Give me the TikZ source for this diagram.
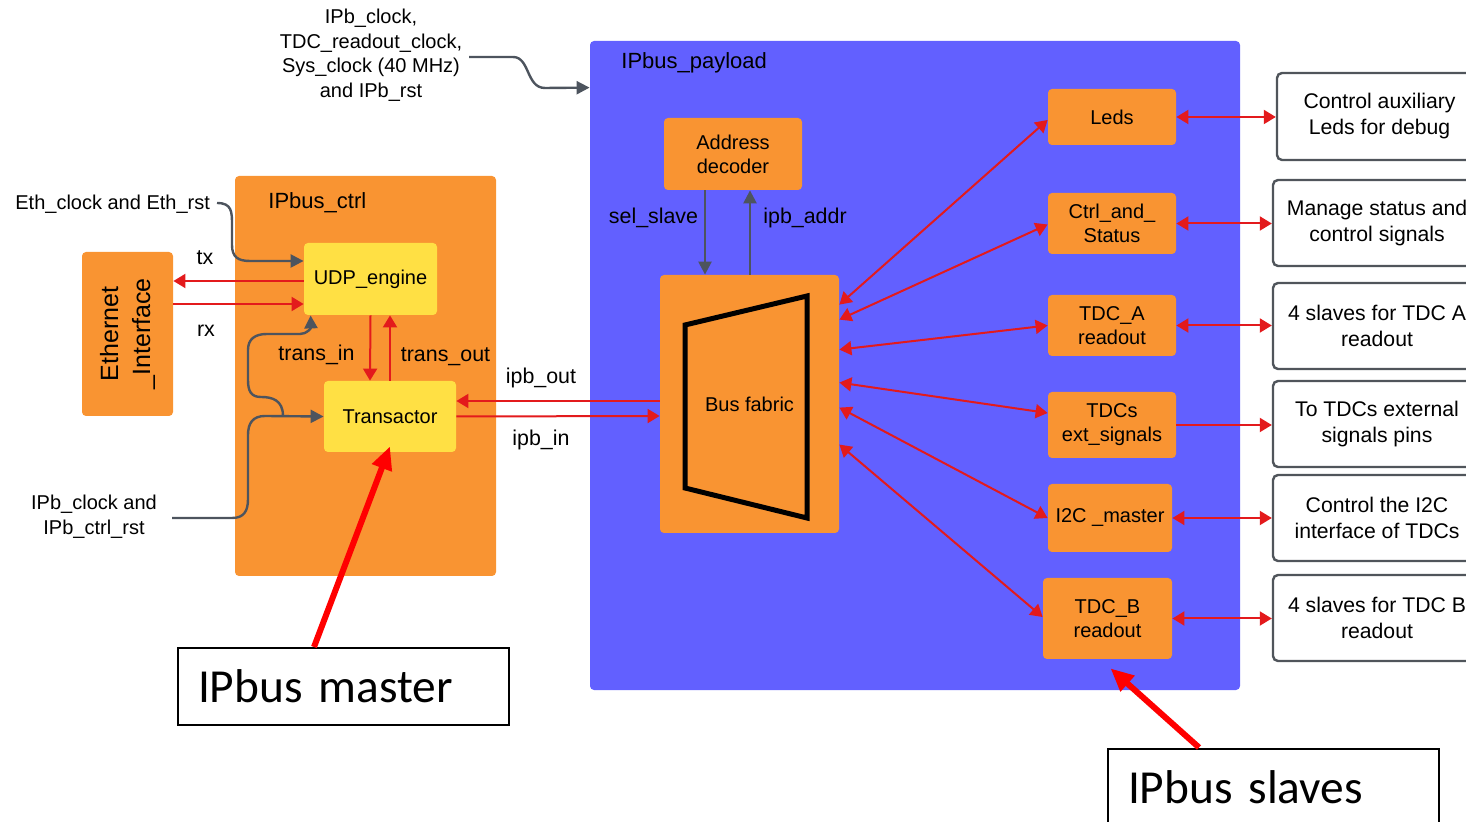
\documentclass[tikz,border=0pt]{standalone}
\usepackage{fontspec}
\setmainfont{Liberation Sans}
\newfontfamily\calibri{Carlito}
\usetikzlibrary{arrows.meta,calc}
\definecolor{pblue}{HTML}{6260FF}
\definecolor{orfill}{HTML}{F99432}
\definecolor{yfill}{HTML}{FFE044}
\definecolor{lred}{HTML}{E31A1C}
\definecolor{lgray}{HTML}{4D545E}
\definecolor{dgray}{HTML}{50555B}
\tikzset{
 obox/.style={fill=orfill, rounded corners=2pt, inner sep=0pt, align=center, font=\fontsize{10}{12}\selectfont},
 ybox/.style={obox, fill=yfill},
 dbox/.style={draw=dgray, line width=1.2pt, fill=white, rounded corners=2.5pt, inner sep=0pt, align=center, font=\fontsize{10.6}{13}\selectfont},
 lbl/.style={font=\fontsize{10.7}{12.8}\selectfont, inner sep=0pt, text height=0.75em, text depth=0.25em},
 title/.style={font=\fontsize{11}{13}\selectfont, inner sep=0pt, anchor=west},
 rl/.style={draw=lred, line width=1pt, -{Triangle[length=6pt,width=7pt]}},
 rlb/.style={draw=lred, line width=1pt, {Triangle[length=6pt,width=7pt]}-{Triangle[length=6pt,width=7pt]}},
 gl/.style={draw=lgray, line width=1.2pt, -{Triangle[length=6.5pt,width=6.5pt]}},
 big/.style={draw=red, line width=3pt, -{Triangle[length=11.5pt,width=10pt]}},
 callout/.style={draw=black, line width=1pt, fill=white, minimum width=165.5pt, minimum height=38.5pt, text width=145.5pt, inner xsep=10pt, align=left, font=\calibri\fontsize{23.7}{28}\selectfont},
}
\begin{document}
\begin{tikzpicture}[x=0.5pt,y=-0.5pt]
\useasboundingbox (0,0) rectangle (1466,822);
\clip (0,0) rectangle (1466,822);

% containers
\node[fill=pblue, rounded corners=2pt, minimum width=325pt, minimum height=324.5pt, inner sep=0pt] (payload) at (915,365.5) {};
\node[title] (payloadt) at (621,63) {IPbus\_payload};
\node[fill=orfill, rounded corners=2pt, minimum width=130.5pt, minimum height=200pt, inner sep=0pt] (ctrl) at (365.5,376) {};
\node[title] (ctrlt) at (268,203) {IPbus\_ctrl};

% left blocks
\node[obox, minimum width=45.5pt, minimum height=82pt] (eth) at (127.5,334) {};
\node[rotate=90, align=center, inner sep=0pt, font=\fontsize{12.5}{16}\selectfont] (etht) at (eth.center) {Ethernet\\\_Interface};
\node[ybox, minimum width=66.5pt, minimum height=36pt] (udp) at (370.5,279) {UDP\_engine};
\node[ybox, minimum width=66pt, minimum height=35.5pt] (trans) at (390,416.5) {Transactor};

% payload blocks
\node[obox, minimum width=69pt, minimum height=36pt] (addr) at (733,154) {Address\\decoder};
\node[obox, minimum width=89.5pt, minimum height=129pt] (bf) at (749.5,404) {Bus fabric};
\draw[line width=2.5pt, miter limit=10] ($(bf.center)+(-64.5,-79)$) -- ($(bf.center)+(57.5,-108)$) -- ($(bf.center)+(57.5,114)$) -- ($(bf.center)+(-64.5,84)$) -- cycle;

\node[obox, minimum width=64pt, minimum height=28pt] (leds) at (1112,117) {Leds};
\node[obox, minimum width=64pt, minimum height=30.5pt] (cas) at (1112,223.5) {Ctrl\_and\_\\Status};
\node[obox, minimum width=64pt, minimum height=30.5pt] (tdca) at (1112,325.5) {TDC\_A\\readout};
\node[obox, minimum width=64pt, minimum height=33pt] (ext) at (1112,425) {TDCs\\ext\_signals};
\node[obox, minimum width=62pt, minimum height=34pt] (i2c) at (1110,518) {I2C \_master};
\node[obox, minimum width=64.5pt, minimum height=40.5pt] (tdcb) at (1107.5,618.5) {TDC\_B\\readout};

% description boxes
\node[dbox, minimum width=102.5pt, minimum height=43.5pt] (d1) at (1379.5,116.5) {Control auxiliary\\Leds for debug};
\node[dbox, minimum width=104pt, minimum height=43pt] (d2) at (1377,223) {Manage status and\\control signals};
\node[dbox, minimum width=104pt, minimum height=43pt] (d3) at (1377,326) {4 slaves for TDC A\\readout};
\node[dbox, minimum width=104pt, minimum height=43pt] (d4) at (1377,424) {To TDCs external\\signals pins};
\node[dbox, minimum width=104pt, minimum height=43pt] (d5) at (1377,518) {Control the I2C\\interface of TDCs};
\node[dbox, minimum width=104pt, minimum height=43pt] (d6) at (1377,618) {4 slaves for TDC B\\readout};

% outside texts
\node[align=center, font=\fontsize{10}{12.25}\selectfont] (topclk) at (371,55) {IPb\_clock,\\TDC\_readout\_clock,\\Sys\_clock (40 MHz)\\and IPb\_rst};
\node[anchor=east, font=\fontsize{10}{12}\selectfont] (ethclk) at (217,204) {Eth\_clock and Eth\_rst};
\node[align=center, font=\fontsize{10}{12.5}\selectfont] (ipbclk) at (94,517) {IPb\_clock and\\IPb\_ctrl\_rst};

% callouts
\node[callout] (master) at (343.5,686.5) {IPbus master};
\node[callout] (slaves) at (1273.5,787) {IPbus slaves};

% labels
\node[lbl] (tx) at (205,260) {tx};
\node[lbl] (rx) at (206,332) {rx};
\node[lbl] (tin) at (316.5,356) {trans\_in};
\node[lbl] (tout) at (445.5,357) {trans\_out};
\node[lbl] (iout) at (541,379) {ipb\_out};
\node[lbl] (iin) at (541,441) {ipb\_in};
\node[lbl] (sels) at (653.5,219) {sel\_slave};
\node[lbl] (iaddr) at (805,219) {ipb\_addr};

% gray connectors
\draw[gl] ($(topclk.east)+(0,2)$) -- (513,57) .. controls (530,57) and (526,88) .. (545,88) -- ($(payload.north west)+(0,47)$);
\draw[gl] ($(ethclk.east)+(0,-1)$) .. controls (232,203) and (232,212) .. (232,225) -- (232,245) .. controls (232,257) and (238,261) .. (250,261) -- ($(udp.west)+(0,-18)$);
\draw[gl] (172,518) -- (232,518) .. controls (244,518) and (248,511) .. (248,499) -- (248,435) .. controls (248,423) and (253,416) .. (265,416) -- (trans.west);
\draw[gl] (283,416) .. controls (283,400) and (272,397) .. (261,397) .. controls (251,397) and (248,391) .. (248,380) -- (248,350) .. controls (248,339) and (255,334) .. (267,334) -- (300,334) .. controls (307,334) and (311,328) .. ($(udp.south west)+(7,0)$);
\draw[gl] ($(addr.south)+(-28,0)$) -- ($(bf.north)+(-44.5,0)$);
\draw[gl] ($(bf.north)+(0.5,0)$) -- ($(addr.south)+(17,0)$);

% red connectors in ctrl
\draw[rl] ($(udp.west)+(0,2)$) -- ($(eth.east)+(0,-53)$);
\draw[rl] ($(eth.east)+(0,-30)$) -- ($(udp.west)+(0,25)$);
\draw[rl] (udp.south) -- ($(trans.north)+(-20,0)$);
\draw[rl] (trans.north) -- ($(udp.south)+(19.5,0)$);
\draw[rl] ($(bf.west)+(0,-3)$) -- ($(trans.east)+(0,-15.5)$);
\draw[rl] ($(trans.east)+(0,0)$) -- ($(bf.west)+(0,12)$);

% fan-out
\draw[rlb] ($(bf.north east)+(0,30)$) -- ($(leds.west)+(0,3)$);
\draw[rlb] ($(bf.north east)+(0,45)$) -- ($(cas.west)+(0,1)$);
\draw[rlb] ($(bf.north east)+(0,75)$) -- (tdca.west);
\draw[rlb] ($(bf.north east)+(0,108)$) -- ($(ext.west)+(0,-12)$);
\draw[rlb] ($(bf.north east)+(0,133)$) -- (i2c.west);
\draw[rlb] ($(bf.north east)+(0,170)$) -- ($(tdcb.west)+(0,-1.5)$);

% to descriptions
\draw[rlb] (leds.east) -- (leds.east -| d1.west);
\draw[rlb] (cas.east) -- (cas.east -| d2.west);
\draw[rlb] (tdca.east) -- (tdca.east -| d3.west);
\draw[rl] (ext.east) -- (ext.east -| d4.west);
\draw[rlb] (i2c.east) -- (i2c.east -| d5.west);
\draw[rlb] (tdcb.east) -- (tdcb.east -| d6.west);

% big callout arrows
\draw[big] ($(master.north west)+(137,0)$) -- ($(trans.south)+(0,-6)$);
\draw[big] ($(slaves.north west)+(92,0)$) -- ($(tdcb.south)+(3,9)$);
\end{tikzpicture}
\end{document}
